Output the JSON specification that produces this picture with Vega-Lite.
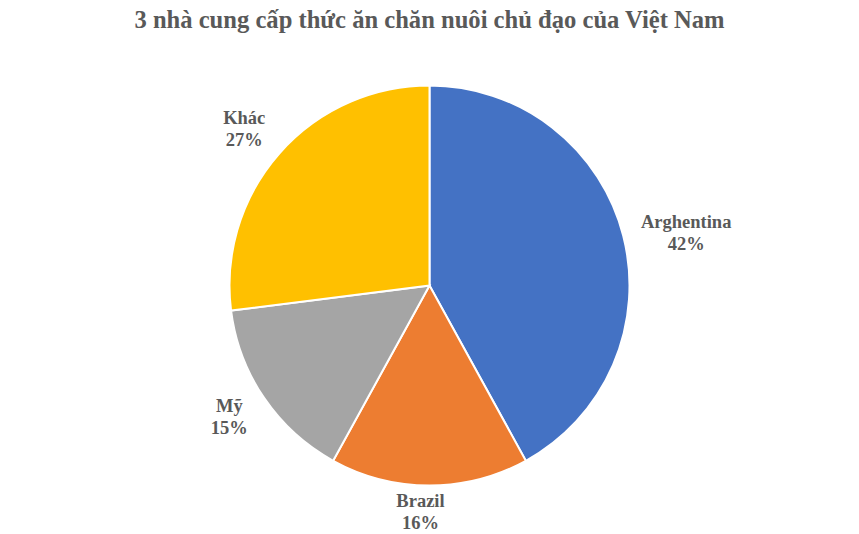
{
  "$schema": "https://vega.github.io/schema/vega-lite/v6.json",
  "width": 859,
  "height": 534,
  "autosize": {"type": "fit", "contains": "padding"},
  "padding": {"top": 7, "left": 0, "right": 0, "bottom": 0},
  "background": "white",
  "title": {
    "text": "3 nhà cung cấp thức ăn chăn nuôi chủ đạo của Việt Nam",
    "font": "Liberation Serif",
    "fontSize": 24.6,
    "fontWeight": "bold",
    "color": "#595959",
    "anchor": "middle",
    "offset": 3.5
  },
  "data": {
    "values": [
      {"name": "Arghentina", "value": 42, "o": 1},
      {"name": "Brazil", "value": 16, "o": 2},
      {"name": "Mỹ", "value": 15, "o": 3},
      {"name": "Khác", "value": 27, "o": 4}
    ]
  },
  "transform": [
    {"stack": "value", "groupby": [], "sort": [{"field": "o"}], "as": ["v0", "v1"]},
    {"calculate": "(datum.v0 + datum.v1) / 2", "as": "mid"},
    {"calculate": "datum.name + '\\n' + datum.value + '%'", "as": "label"}
  ],
  "layer": [
    {
      "mark": {"type": "arc", "outerRadius": 200, "stroke": "white", "strokeWidth": 2},
      "encoding": {
        "theta": {"field": "v0", "type": "quantitative", "scale": {"domain": [0, 100]}},
        "theta2": {"field": "v1"},
        "color": {
          "field": "name",
          "type": "nominal",
          "scale": {
            "domain": ["Arghentina", "Brazil", "Mỹ", "Khác"],
            "range": ["#4472C4", "#ED7D31", "#A5A5A5", "#FFC000"]
          },
          "legend": null
        }
      }
    },
    {
      "transform": [{"filter": "datum.name == 'Arghentina'"}],
      "mark": {"type": "text", "radius": 265, "dy": 2, "font": "Liberation Serif", "fontSize": 18.5, "fontWeight": "bold", "color": "#595959", "lineBreak": "\n", "lineHeight": 22, "baseline": "middle"},
      "encoding": {
        "theta": {"field": "mid", "type": "quantitative", "scale": {"domain": [0, 100]}},
        "text": {"field": "label"}
      }
    },
    {
      "transform": [{"filter": "datum.name == 'Brazil'"}],
      "mark": {"type": "text", "radius": 215, "dx": -9, "font": "Liberation Serif", "fontSize": 18.5, "fontWeight": "bold", "color": "#595959", "lineBreak": "\n", "lineHeight": 22, "baseline": "middle"},
      "encoding": {
        "theta": {"field": "mid", "type": "quantitative", "scale": {"domain": [0, 100]}},
        "text": {"field": "label"}
      }
    },
    {
      "transform": [{"filter": "datum.name == 'Mỹ'"}],
      "mark": {"type": "text", "radius": 242, "dy": -15.5, "font": "Liberation Serif", "fontSize": 18.5, "fontWeight": "bold", "color": "#595959", "lineBreak": "\n", "lineHeight": 22, "baseline": "middle"},
      "encoding": {
        "theta": {"field": "mid", "type": "quantitative", "scale": {"domain": [0, 100]}},
        "text": {"field": "label"}
      }
    },
    {
      "transform": [{"filter": "datum.name == 'Khác'"}],
      "mark": {"type": "text", "radius": 247, "dy": -4, "font": "Liberation Serif", "fontSize": 18.5, "fontWeight": "bold", "color": "#595959", "lineBreak": "\n", "lineHeight": 22, "baseline": "middle"},
      "encoding": {
        "theta": {"field": "mid", "type": "quantitative", "scale": {"domain": [0, 100]}},
        "text": {"field": "label"}
      }
    }
  ]
}
